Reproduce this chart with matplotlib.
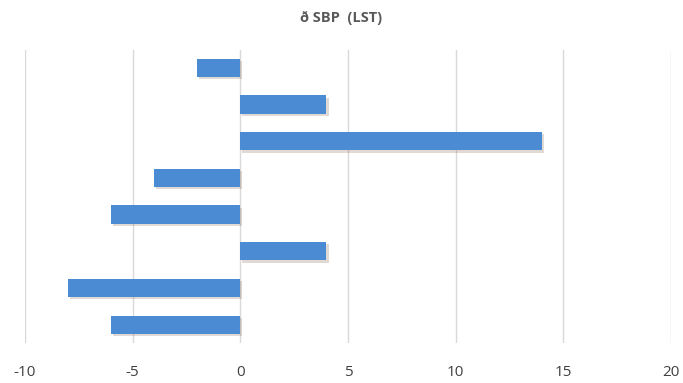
import numpy as np
import matplotlib
matplotlib.use("Agg")
from matplotlib import pyplot as plt
from matplotlib import patheffects as pe

# bars listed top to bottom
categories = ["1", "2", "3", "4", "5", "6", "7", "8"]
values = [-2, 4, 14, -4, -6, 4, -8, -6]
xticks = [-10, -5, 0, 5, 10, 15, 20]
title = "ð SBP  (LST)"

plt.rcParams['font.family'] = ['Open Sans', 'DejaVu Sans']

fig = plt.figure(figsize=(6.83, 3.83), dpi=100)
ax = fig.add_axes([0.0366, 0.1044, 0.9458, 0.7661])

ypos = np.arange(len(categories))
bars = ax.barh(ypos, values, height=0.5, color="#4a8bd3", zorder=3)
for b in bars:
    b.set_path_effects([pe.SimplePatchShadow(offset=(1.5, -1.5), shadow_rgbFace="#8a6a50", alpha=0.25), pe.Normal()])

ax.set_ylim(len(categories) - 0.5, -0.5)
ax.set_xlim(-10, 20)
ax.set_xticks(xticks)
ax.set_xticklabels([str(t) for t in xticks], fontsize=11, color="#404040")
ax.set_yticks([])
ax.tick_params(axis="x", length=0, pad=16)
ax.grid(axis="x", color="#d9d9d9", linewidth=1, zorder=0)
for s in ax.spines.values():
    s.set_visible(False)

fig.text(0.5, 0.953, title, ha="center", va="center", fontsize=10.5, fontweight="bold", color="#595959")

fig.savefig("out.png", dpi=100)
